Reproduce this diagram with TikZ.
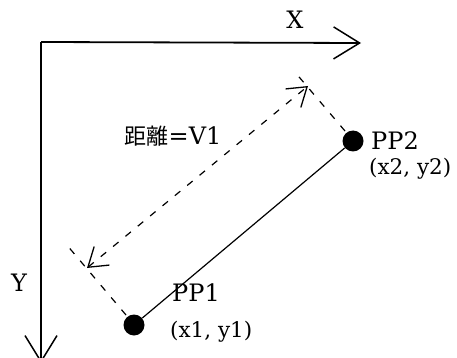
\documentclass[tikz,border=0pt]{standalone}
\usepackage{fontspec}
\setmainfont{DejaVu Serif}
\newfontfamily\jpfont{Noto Sans CJK JP}
\usepackage{tikz}
\usetikzlibrary{arrows.meta, calc, positioning}

\begin{document}
\begin{tikzpicture}[
    x=1pt, y=-1pt,
    % axes and the two points
    axis/.style={line width=1.8pt, -{Straight Barb[length=26pt, width=32pt, line width=1.5pt]}},
    dot/.style={circle, fill=black, inner sep=0pt, minimum size=21pt},
    lbl/.style={font=\fontsize{24}{28}\selectfont, inner sep=0pt},
    xylbl/.style={lbl, font=\fontsize{21.5}{26}\selectfont},
    % dashed construction lines
    ext/.style={dashed, dash pattern=on 7pt off 9pt, line width=1.2pt},
    dist/.style={ext, {Straight Barb[length=18pt, width=24pt, line width=1.3pt]}-{Straight Barb[length=18pt, width=24pt, line width=1.3pt]}}
]
\useasboundingbox (0,0) rectangle (457,358);
% ── axes ─────────────────────────────────────────
\coordinate (o) at (41,42);
\coordinate (xend) at (361,43);
\coordinate (yend) at (41,363);
\draw[axis] (o) -- (xend);
\draw[axis] (o) -- (yend);
\node[lbl] (xlabel) at (295,20) {X};
\node[lbl] (ylabel) at (19,283) {Y};
% ── points ───────────────────────────────────────
\node[dot] (pp1) at (134,325) {};
\node[dot] (pp2) at (353,141) {};
\draw[line width=1.2pt] (pp1) -- (pp2);
\node[lbl, anchor=west] (pp1name) at (172,293) {PP1};
\node[xylbl, anchor=west] (pp1xy) at (170,332) {(x1, y1)};
\node[lbl, anchor=west] (pp2name) at (371,141) {PP2};
\node[xylbl, anchor=west] (pp2xy) at (369,169) {(x2, y2)};
% ── extension lines and distance ─────────────────
\coordinate (e1a) at (126,315);
\coordinate (e1b) at (66,244);
\coordinate (e2a) at (345,131);
\coordinate (e2b) at (294,71);
\coordinate (d1) at (87,268);
\coordinate (d2) at (308,86);
\draw[ext] (e1a) -- (e1b);
\draw[ext] (e2a) -- (e2b);
\draw[dist] (d1) -- (d2);
\node[lbl] (vlabel) at (173,136) {{\jpfont\fontsize{22}{24}\selectfont 距離}=V1};
\end{tikzpicture}
\end{document}
